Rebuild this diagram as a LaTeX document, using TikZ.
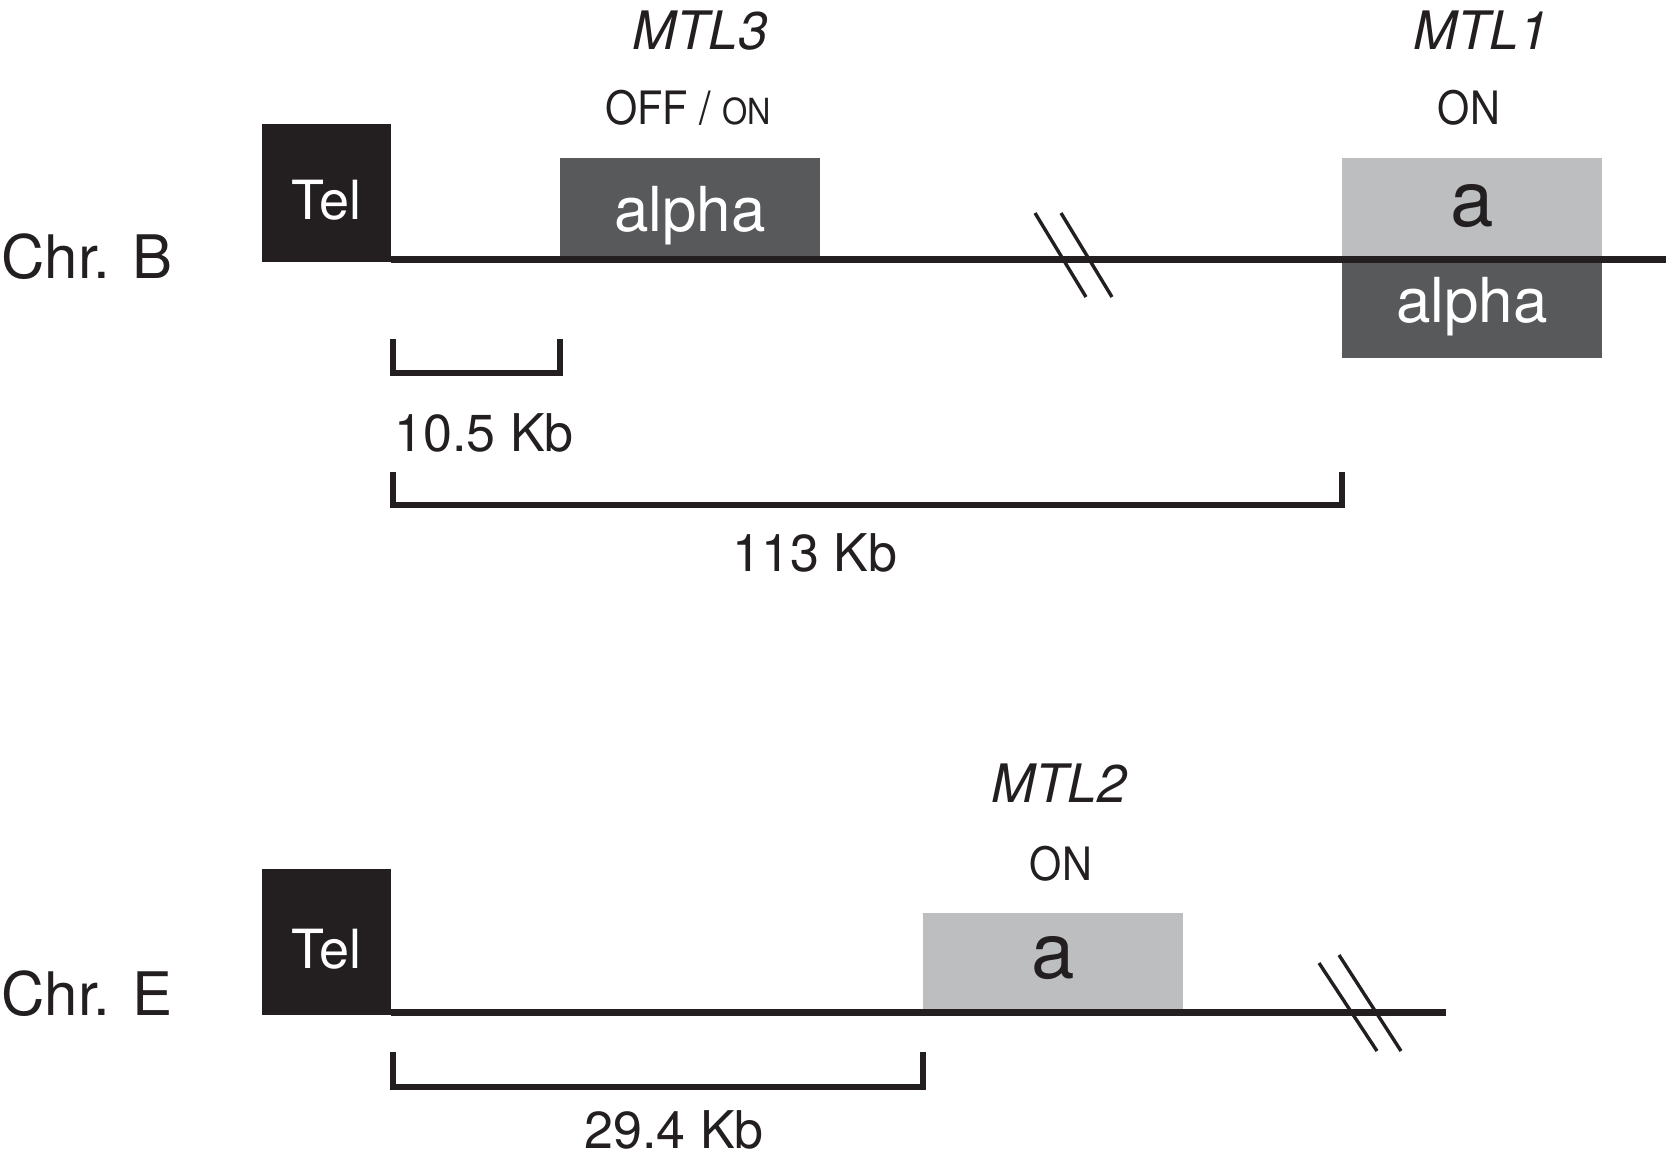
\documentclass[tikz,border=0pt]{standalone}
\usepackage{fontspec}
\setmainfont{TeX Gyre Heros}
\newfontfamily\narrowfont[FakeStretch=0.9]{TeX Gyre Heros}
\usetikzlibrary{calc,positioning}
\definecolor{telblack}{HTML}{231F20}
\definecolor{alphagray}{HTML}{58595B}
\definecolor{agray}{HTML}{BCBEC0}
\newdimen\hdim
\newdimen\wdim
\hdim=49pt
\wdim=130pt
\tikzstyle{tel}=[
  anchor=south west,
  fill=telblack,
  font={\fontsize{27}{27}\selectfont},
  inner sep=0pt,
  minimum width=64.5pt,
  outer sep=0pt,
  text=white,
  text height=26pt,
  text depth=0pt,
]
\tikzstyle{alphabox}=[
  fill=alphagray,
  font={\fontsize{31}{31}\selectfont},
  inner sep=0pt,
  minimum height=\hdim,
  minimum width=\wdim,
  outer sep=0pt,
  text=white,
  text height=24pt,
  text depth=0pt,
]
\tikzstyle{abox}=[
  alphabox,
  fill=agray,
  font={\fontsize{39}{39}\selectfont},
  text=telblack,
  text height=19pt,
]
\tikzstyle{chrline}=[
  draw=telblack,
  line width=3.5pt,
]
\tikzstyle{scalebar}=[
  draw=telblack,
  line width=3.3pt,
]
\tikzstyle{breakmark}=[
  draw=telblack,
  line width=1.7pt,
]
\tikzstyle{chrlabel}=[
  anchor=base west,
  font={\fontsize{30}{30}\selectfont},
  inner sep=0pt,
  text=telblack,
]
\tikzstyle{locus}=[
  anchor=base,
  font={\fontsize{26.5}{26.5}\selectfont\itshape},
  inner sep=0pt,
  text=telblack,
]
\tikzstyle{statelabel}=[
  anchor=base,
  font={\fontsize{23}{23}\selectfont\narrowfont},
  inner sep=0pt,
  text=telblack,
]
\tikzstyle{kblabel}=[
  anchor=base,
  font={\fontsize{26}{26}\selectfont},
  inner sep=0pt,
  text=telblack,
]
\tikzset{
  x=0.5pt,
  y=-0.5pt,
}

\begin{document}
\begin{tikzpicture}
      \useasboundingbox (0,0) rectangle (1666,1158);
      %% Chr. B
      \node (chrB) [chrlabel] at (1,278) {Chr. B};
      \node (telB) [tel, minimum height=69pt] at (262,262) {Tel};
      \node (alphaB) [alphabox, anchor=south west] at (560,256) {alpha};
      \node (aB) [abox, anchor=south west] at (1342,256) {a};
      \node (alphaBlow) [alphabox, anchor=north west, text height=13pt] at (1342,260) {alpha};
      \coordinate (endB) at (1666,259);
      \draw [chrline] (telB.east |- endB) -- (endB);
      %%
      \node (mtlthree) [locus] at (700,49) {MTL3};
      \node (stateB) [statelabel] at (688,124) {OFF / {\fontsize{18}{18}\selectfont ON}};
      \node (mtlone) [locus] at (1481,49) {MTL1};
      \node (stateBone) [statelabel] at (1469,124) {ON};
      %%
      \coordinate (breakB) at (1073,255);
      \draw [breakmark] ($(breakB)+(-38,-42)$) -- ++(51,84);
      \draw [breakmark] ($(breakB)+(-12,-42)$) -- ++(51,84);
      %%
      \draw [scalebar] (telB.south east) ++(2,77) coordinate (barA)
        -- ++(0,34) -| (alphaB.south west |- barA);
      \node (kbA) [kblabel, anchor=base west] at (394,451) {10.5 Kb};
      \draw [scalebar] (telB.south east) ++(2,210) coordinate (barB)
        -- ++(0,33) -| (aB.south west |- barB);
      \node (kbB) [kblabel] at (815,571) {113 Kb};
      %% Chr. E
      \node (chrE) [chrlabel] at (1,1015) {Chr. E};
      \node (telE) [tel, minimum height=73pt] at (262,1015) {Tel};
      \node (aE) [abox, anchor=south west, minimum height=48pt, text height=17pt] at (923,1009) {a};
      \coordinate (endE) at (1446,1012);
      \draw [chrline] (telE.east |- endE) -- (endE);
      %%
      \node (mtltwo) [locus] at (1059,802) {MTL2};
      \node (stateE) [statelabel] at (1061,880) {ON};
      %%
      \coordinate (breakE) at (1360,1005);
      \draw [breakmark] ($(breakE)+(-41,-42)$) -- ++(58,88);
      \draw [breakmark] ($(breakE)+(-21,-50)$) -- ++(62,96);
      %%
      \draw [scalebar] (telE.south east) ++(2,37) coordinate (barC)
        -- ++(0,35) -| (aE.south west |- barC);
      \node (kbC) [kblabel] at (674,1148) {29.4 Kb};
    \end{tikzpicture}
\end{document}
